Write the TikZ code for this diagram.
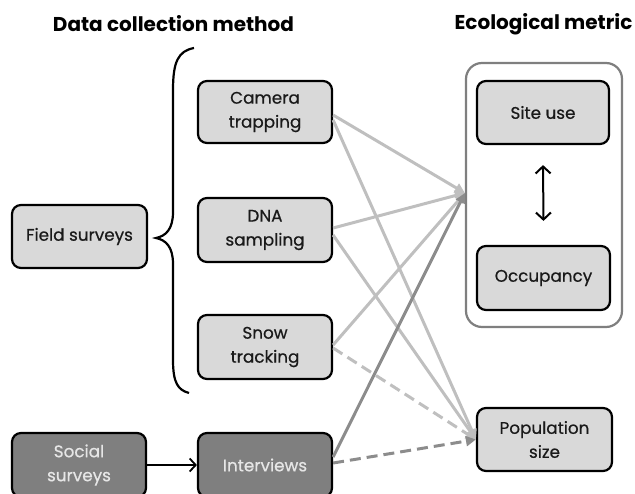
\documentclass[tikz,border=0pt]{standalone}
\usepackage{fontspec}
\setmainfont{Poppins}
\newfontfamily\boxfont[FakeBold=0.6]{Poppins}
\usetikzlibrary{arrows.meta,calc}
\definecolor{boxlight}{HTML}{D9D9D9}
\definecolor{boxdark}{HTML}{7F7F7F}
\definecolor{linelight}{HTML}{BFBFBF}
\definecolor{linedark}{HTML}{8C8C8C}
\definecolor{txtdark}{HTML}{1A1A1A}
\definecolor{txtlight}{HTML}{E6E6E6}
\tikzset{
  lbox/.style={draw=black, line width=2.2pt, rounded corners=9pt, fill=boxlight,
    minimum width=134pt, minimum height=63pt, align=center, text=txtdark,
    font=\boxfont\fontsize{16.8}{24}\selectfont, inner sep=2pt},
  dbox/.style={lbox, fill=boxdark, text=txtlight},
  title/.style={font=\fontsize{20}{22}\selectfont\bfseries, text=black},
  conn/.style={draw=linelight, line width=3pt, -{Triangle[length=10pt,width=10pt]}},
  conndk/.style={conn, draw=linedark},
  dashconn/.style={dash pattern=on 11pt off 6pt},
  blk/.style={draw=black, line width=1.8pt, -{Straight Barb[length=6pt,width=13pt]}}
}
\begin{document}
\begin{tikzpicture}[x=1pt,y=-1pt]
\useasboundingbox (0,0) rectangle (635,493);
% titles
\node[title] (t1) at (173.5,24) {Data collection method};
\node[title] (t2) at (543.5,24) {Ecological metric};
% left nodes
\node[lbox, minimum width=135pt] (field) at (79.5,236.5) {Field surveys};
\node[dbox, minimum height=64pt] (social) at (79,465) {Social\\surveys};
% methods
\node[lbox, minimum height=62pt] (cam) at (265,112) {Camera\\trapping};
\node[lbox, minimum height=64pt] (dna) at (265,230) {DNA\\sampling};
\node[lbox, minimum height=64pt] (snow) at (265,347) {Snow\\tracking};
\node[dbox, minimum height=64pt] (intv) at (265,465) {Interviews};
% metrics
\node[draw=boxdark, line width=2.2pt, rounded corners=16pt, fill=white,
  minimum width=156pt, minimum height=264pt] (outer) at (544,195) {};
\node[lbox, minimum width=132pt] (site) at (543,112.5) {Site use};
\node[lbox, minimum width=133pt, minimum height=64pt] (occ) at (543.5,278) {Occupancy};
\node[lbox, minimum width=135pt] (pop) at (544.5,439.5) {Population\\size};
% brace
\draw[line width=2.2pt] (194,48) .. controls (178,51) and (173,62) .. (173,90)
  -- (173,212) .. controls (173,229) and (166,236) .. (156,238)
  .. controls (166,240) and (173,247) .. (173,264)
  -- (173,360) .. controls (173,383) and (178,390) .. (189,393);
% site/occupancy double arrow
\coordinate (da1) at ($(site.south)+(0,20)$);
\coordinate (da2) at ($(occ.north)+(0,-24)$);
\draw[draw=black, line width=2pt, {Straight Barb[length=7pt,width=15pt]}-{Straight Barb[length=7pt,width=15pt]}] (da1) -- (da2);
% social -> interviews
\draw[blk] (social.east) -- (intv.west);
% light connectors
\draw[conn] ([yshift=-3pt]cam.east) -- ([yshift=2pt]outer.west);
\draw[conn] ([yshift=-8pt]cam.east) -- (pop.west);
\draw[conn] ([yshift=2pt]dna.east) -- ([yshift=2pt]outer.west);
\draw[conn] ([yshift=-5pt]dna.east) -- (pop.west);
\draw[conn] ([yshift=2pt]snow.east) -- ([yshift=2pt]outer.west);
\draw[conn, dashconn] ([yshift=-1pt]snow.east) -- (pop.west);
\draw[conndk] ([yshift=8pt]intv.east) -- ([yshift=2pt]outer.west);
\draw[conndk, dashconn] ([yshift=2pt]intv.east) -- (pop.west);
\end{tikzpicture}
\end{document}
